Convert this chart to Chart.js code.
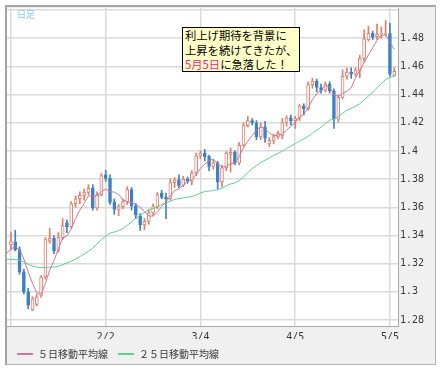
<!DOCTYPE html>
<html>
<head>
<meta charset="utf-8">
<script src="https://cdn.jsdelivr.net/npm/chart.js@4.4.0/dist/chart.umd.min.js"></script>
<style>
    body { margin: 0; background: #fff; }
    #wrap { position: relative; width: 440px; height: 372px; }
    #frame {
        position: absolute; left: 5px; top: 5px; width: 428px; height: 357px;
        background: #f0f0f0;
        border-top: 2px solid #a4a4a4; border-left: 2px solid #a4a4a4;
        border-right: 1px solid #b4b4b4; border-bottom: 1px solid #b4b4b4;
    }
    canvas { position: absolute; left: 0; top: 0; }
    #kind { position: absolute; left: 17px; top: 8px; font: 9px "Noto Sans CJK JP"; color: #86cbee; }
    #note {
        position: absolute; left: 182px; top: 27px; width: 114px; height: 43px;
        padding-left: 2px; border: 1px solid #000; background: #ffffc8; color: #000;
        font: 11.3px/14.5px "Noto Sans CJK JP"; white-space: nowrap;
    }
    #note .hl { color: #ee1e8c; }
</style>
</head>
<body>
<div id="wrap">
    <div id="frame"></div>
    <canvas id="myChart" width="440" height="372"></canvas>
    <div id="kind">日足</div>
    <div id="note">利上げ期待を背景に<br>上昇を続けてきたが、<br><span class="hl">5月5日</span>に急落した！</div>
</div>
<script>
const ctx = document.getElementById("myChart");

// trading days, 12/31 is only there so the averages run to the left edge
const dates = [
    "12/31",
    "1/3", "1/4", "1/5", "1/6", "1/7",
    "1/10", "1/11", "1/12", "1/13", "1/14",
    "1/17", "1/18", "1/19", "1/20", "1/21",
    "1/24", "1/25", "1/26", "1/27", "1/28",
    "1/31",
    "2/1", "2/2", "2/3", "2/4",
    "2/7", "2/8", "2/9", "2/10", "2/11",
    "2/14", "2/15", "2/16", "2/17", "2/18",
    "2/21", "2/22", "2/23", "2/24", "2/25",
    "2/28",
    "3/1", "3/2", "3/3", "3/4",
    "3/7", "3/8", "3/9", "3/10", "3/11",
    "3/14", "3/15", "3/16", "3/17", "3/18",
    "3/21", "3/22", "3/23", "3/24", "3/25",
    "3/28", "3/29", "3/30", "3/31",
    "4/1",
    "4/4", "4/5", "4/6", "4/7", "4/8",
    "4/11", "4/12", "4/13", "4/14", "4/15",
    "4/18", "4/19", "4/20", "4/21", "4/22",
    "4/25", "4/26", "4/27", "4/28", "4/29",
    "5/2", "5/3", "5/4", "5/5", "5/6"
];

const opens = [
    null,
    1.3335, 1.3355, 1.3300, 1.3142, 1.3000,
    1.2872, 1.2910, 1.2975, 1.3105, 1.3360,
    1.3380, 1.3295, 1.3385, 1.3490, 1.3462,
    1.3625, 1.3660, 1.3685, 1.3705, 1.3735,
    1.3595,
    1.3690, 1.3830, 1.3805, 1.3635,
    1.3585, 1.3605, 1.3640, 1.3725, 1.3610,
    1.3540, 1.3475, 1.3500, 1.3560, 1.3605,
    1.3700, 1.3672, 1.3660, 1.3775, 1.3795,
    1.3755,
    1.3800, 1.3785, 1.3845, 1.3965,
    1.3985, 1.3960, 1.3890, 1.3915, 1.3780,
    1.3880, 1.3975, 1.3990, 1.3915, 1.4040,
    1.4180, 1.4215, 1.4200, 1.4100, 1.4170,
    1.4050, 1.4075, 1.4100, 1.4110,
    1.4200,
    1.4235, 1.4215, 1.4230, 1.4320, 1.4300,
    1.4470, 1.4495, 1.4450, 1.4430, 1.4475,
    1.4425, 1.4225, 1.4380, 1.4530, 1.4560,
    1.4545, 1.4570, 1.4655, 1.4790, 1.4835,
    1.4810, 1.4830, 1.4830, 1.4832, 1.4535
];

const highs = [
    null,
    1.3420, 1.3437, 1.3320, 1.3160, 1.3025,
    1.2965, 1.2985, 1.3115, 1.3385, 1.3450,
    1.3400, 1.3420, 1.3520, 1.3510, 1.3640,
    1.3680, 1.3710, 1.3730, 1.3760, 1.3760,
    1.3710,
    1.3840, 1.3862, 1.3830, 1.3660,
    1.3620, 1.3660, 1.3745, 1.3740, 1.3625,
    1.3555, 1.3520, 1.3580, 1.3625, 1.3705,
    1.3720, 1.3700, 1.3800, 1.3810, 1.3830,
    1.3820,
    1.3815, 1.3860, 1.3985, 1.4000,
    1.4010, 1.3970, 1.3935, 1.3925, 1.3900,
    1.3995, 1.4020, 1.4000, 1.4060, 1.4200,
    1.4245, 1.4230, 1.4215, 1.4200, 1.4210,
    1.4095, 1.4120, 1.4140, 1.4230,
    1.4250,
    1.4255, 1.4245, 1.4330, 1.4335, 1.4490,
    1.4515, 1.4510, 1.4475, 1.4490, 1.4490,
    1.4440, 1.4395, 1.4575, 1.4590, 1.4590,
    1.4590, 1.4680, 1.4860, 1.4885, 1.4850,
    1.4900, 1.4880, 1.4925, 1.4905, 1.4590
];

const lows = [
    null,
    1.3300, 1.3290, 1.3125, 1.2985, 1.2880,
    1.2866, 1.2900, 1.2960, 1.3090, 1.3345,
    1.3270, 1.3280, 1.3370, 1.3420, 1.3450,
    1.3600, 1.3625, 1.3650, 1.3690, 1.3580,
    1.3580,
    1.3680, 1.3785, 1.3620, 1.3550,
    1.3540, 1.3590, 1.3620, 1.3580, 1.3520,
    1.3435, 1.3440, 1.3480, 1.3540, 1.3590,
    1.3660, 1.3520, 1.3650, 1.3740, 1.3740,
    1.3745,
    1.3770, 1.3760, 1.3825, 1.3945,
    1.3930, 1.3860, 1.3870, 1.3730, 1.3745,
    1.3860, 1.3850, 1.3900, 1.3900, 1.4030,
    1.4170, 1.4185, 1.4080, 1.4080, 1.4060,
    1.4030, 1.4050, 1.4085, 1.4085,
    1.4175,
    1.4185, 1.4160, 1.4215, 1.4255, 1.4290,
    1.4445, 1.4420, 1.4410, 1.4420, 1.4410,
    1.4160, 1.4205, 1.4370, 1.4510, 1.4515,
    1.4530, 1.4520, 1.4630, 1.4780, 1.4790,
    1.4790, 1.4800, 1.4815, 1.4530, 1.4530
];

const closes = [
    null,
    1.3355, 1.3300, 1.3142, 1.3000, 1.2906,
    1.2950, 1.2965, 1.3105, 1.3370, 1.3380,
    1.3290, 1.3385, 1.3470, 1.3462, 1.3625,
    1.3660, 1.3685, 1.3705, 1.3735, 1.3595,
    1.3690,
    1.3825, 1.3805, 1.3635, 1.3585,
    1.3605, 1.3640, 1.3725, 1.3610, 1.3545,
    1.3475, 1.3500, 1.3560, 1.3605, 1.3690,
    1.3670, 1.3660, 1.3775, 1.3795, 1.3755,
    1.3800,
    1.3785, 1.3845, 1.3965, 1.3985,
    1.3960, 1.3890, 1.3915, 1.3780, 1.3880,
    1.3985, 1.3990, 1.3915, 1.4040, 1.4180,
    1.4215, 1.4200, 1.4100, 1.4170, 1.4090,
    1.4075, 1.4100, 1.4125, 1.4200,
    1.4235,
    1.4215, 1.4230, 1.4320, 1.4300, 1.4470,
    1.4495, 1.4450, 1.4430, 1.4475, 1.4425,
    1.4225, 1.4380, 1.4530, 1.4560, 1.4545,
    1.4575, 1.4655, 1.4795, 1.4835, 1.4805,
    1.4830, 1.4835, 1.4832, 1.4545, 1.4565
];

// moving averages as drawn in the picture
const ma5 = [
    1.3272,
    1.3303, 1.3321, 1.3299, 1.3233, 1.3141,
    1.3060, 1.2993, 1.2985, 1.3059, 1.3154,
    1.3222, 1.3306, 1.3379, 1.3397, 1.3446,
    1.3520, 1.3580, 1.3627, 1.3682, 1.3676,
    1.3682,
    1.3710, 1.3730, 1.3710, 1.3708,
    1.3691, 1.3654, 1.3638, 1.3633, 1.3625,
    1.3599, 1.3571, 1.3538, 1.3537, 1.3566,
    1.3605, 1.3637, 1.3680, 1.3718, 1.3731,
    1.3757,
    1.3782, 1.3796, 1.3830, 1.3876,
    1.3908, 1.3929, 1.3943, 1.3906, 1.3885,
    1.3890, 1.3910, 1.3910, 1.3962, 1.4022,
    1.4068, 1.4110, 1.4147, 1.4173, 1.4155,
    1.4127, 1.4107, 1.4112, 1.4118,
    1.4147,
    1.4175, 1.4201, 1.4240, 1.4260, 1.4307,
    1.4363, 1.4407, 1.4429, 1.4464, 1.4455,
    1.4401, 1.4387, 1.4407, 1.4424, 1.4448,
    1.4518, 1.4573, 1.4626, 1.4681, 1.4733,
    1.4784, 1.4820, 1.4827, 1.4769, 1.4721
];

const ma25 = [
    1.3232,
    1.3230, 1.3228, 1.3225, 1.3212, 1.3196,
    1.3183, 1.3175, 1.3172, 1.3172, 1.3174,
    1.3176, 1.3182, 1.3192, 1.3205, 1.3218,
    1.3233, 1.3250, 1.3268, 1.3288, 1.3310,
    1.3340,
    1.3370, 1.3395, 1.3416, 1.3425,
    1.3435, 1.3449, 1.3472, 1.3496, 1.3522,
    1.3543, 1.3564, 1.3583, 1.3592, 1.3604,
    1.3620, 1.3631, 1.3643, 1.3656, 1.3661,
    1.3667,
    1.3671, 1.3676, 1.3686, 1.3701,
    1.3712, 1.3715, 1.3719, 1.3725, 1.3737,
    1.3752, 1.3766, 1.3773, 1.3791, 1.3816,
    1.3846, 1.3874, 1.3895, 1.3918, 1.3934,
    1.3950, 1.3968, 1.3982, 1.3998,
    1.4017,
    1.4034, 1.4051, 1.4070, 1.4084, 1.4103,
    1.4125, 1.4147, 1.4168, 1.4195, 1.4217,
    1.4227, 1.4242, 1.4267, 1.4288, 1.4302,
    1.4317, 1.4335, 1.4363, 1.4389, 1.4418,
    1.4448, 1.4478, 1.4506, 1.4520, 1.4533
];

// vertical grid lines and the labels under them (1/3 has no label)
const gridDates = ["1/3", "2/2", "3/4", "4/5", "5/5"];
const xTickLabels = ["", "2/2", "3/4", "4/5", "5/5"];

const yTicks = [1.28, 1.30, 1.32, 1.34, 1.36, 1.38, 1.40, 1.42, 1.44, 1.46, 1.48, 1.50];
const yTickLabels = ["1.28", "1.3", "1.32", "1.34", "1.36", "1.38", "1.4", "1.42", "1.44", "1.46", "1.48", ""];

const UP_COLOR = "#e47d68";
const DOWN_COLOR = "#3d82c3";
const MA5_COLOR = "#c87a9c";
const MA25_COLOR = "#5fcf94";
const GRID_COLOR = "#dadada";
const TEXT_COLOR = "#3a3a3a";

const gridIndex = gridDates.map((d) => dates.indexOf(d));
const candleIndex = dates.map((d, i) => i).filter((i) => opens[i] !== null);
const candleColor = candleIndex.map((i) => (closes[i] >= opens[i] ? UP_COLOR : DOWN_COLOR));

// white plot area on the grey panel
const plotBackground = {
    id: "plotBackground",
    beforeDraw(chart) {
        const { ctx, chartArea } = chart;
        ctx.save();
        ctx.fillStyle = "#ffffff";
        ctx.fillRect(chartArea.left, chartArea.top, chartArea.right - chartArea.left, chartArea.bottom - chartArea.top);
        ctx.restore();
    }
};

const tickFont = { family: "'DejaVu Sans Mono'", size: 10 };

const chart = new Chart(ctx, {
    type: "bar",
    data: {
        datasets: [
            {
                type: "line",
                label: "５日移動平均線",
                data: dates.map((d, i) => ({ x: i, y: ma5[i] })),
                borderColor: MA5_COLOR,
                backgroundColor: MA5_COLOR,
                borderWidth: 1,
                pointRadius: 0,
                order: 0
            },
            {
                type: "line",
                label: "２５日移動平均線",
                data: dates.map((d, i) => ({ x: i, y: ma25[i] })),
                borderColor: MA25_COLOR,
                backgroundColor: MA25_COLOR,
                borderWidth: 1,
                pointRadius: 0,
                order: 1
            },
            {
                label: "body",
                data: candleIndex.map((i) => ({ x: i, y: [opens[i], closes[i]] })),
                backgroundColor: candleIndex.map((i) => (closes[i] >= opens[i] ? "#ffffff" : DOWN_COLOR)),
                borderColor: candleColor,
                borderWidth: 1,
                borderSkipped: false,
                barThickness: 3,
                grouped: false,
                order: 2
            },
            {
                label: "wick",
                data: candleIndex.map((i) => ({ x: i, y: [lows[i], highs[i]] })),
                backgroundColor: candleColor,
                borderWidth: 0,
                barThickness: 1,
                grouped: false,
                order: 3
            }
        ]
    },
    options: {
        responsive: false,
        animation: false,
        layout: { padding: { left: 7, top: 7, right: 5, bottom: 3 } },
        scales: {
            x: {
                type: "linear",
                min: 0.083,
                max: 90.87,
                offset: false,
                grid: { color: GRID_COLOR, lineWidth: 1.5, offset: false, drawTicks: false },
                border: { color: "#a8a8a8" },
                afterBuildTicks: (scale) => {
                    scale.ticks = gridIndex.map((v) => ({ value: v }));
                },
                afterFit: (scale) => {
                    scale.height = 13;
                },
                ticks: {
                    autoSkip: false,
                    maxRotation: 0,
                    padding: 5,
                    color: TEXT_COLOR,
                    font: tickFont,
                    callback: (value, index) => xTickLabels[index]
                }
            },
            y: {
                position: "right",
                min: 1.27576,
                max: 1.50142,
                beginAtZero: false,
                grid: { color: GRID_COLOR, lineWidth: 1.5, drawTicks: false },
                border: { color: "#a8a8a8" },
                afterBuildTicks: (scale) => {
                    scale.ticks = yTicks.map((v) => ({ value: v }));
                },
                afterFit: (scale) => {
                    scale.width = 37;
                },
                ticks: {
                    padding: 2,
                    color: TEXT_COLOR,
                    font: tickFont,
                    callback: (value, index) => yTickLabels[index]
                }
            }
        },
        plugins: {
            legend: {
                position: "bottom",
                align: "start",
                labels: {
                    boxWidth: 16,
                    boxHeight: 2,
                    padding: 10,
                    color: TEXT_COLOR,
                    font: { family: "'Noto Sans CJK JP'", size: 10 },
                    generateLabels: (chart) =>
                        Chart.defaults.plugins.legend.labels.generateLabels(chart)
                            .filter((item) => item.datasetIndex < 2)
                            .map((item) => ({ ...item, lineWidth: 0, fillStyle: item.strokeStyle }))
                }
            },
            tooltip: { enabled: false }
        }
    },
    plugins: [plotBackground]
});
</script>
</body>
</html>
